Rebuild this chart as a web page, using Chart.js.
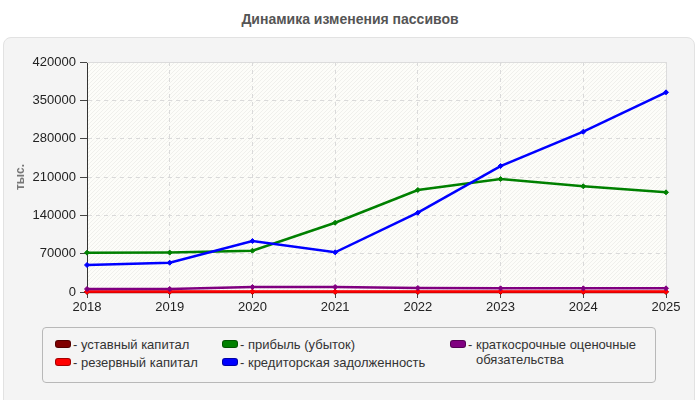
<!DOCTYPE html>
<html>
<head>
<meta charset="utf-8">
<script src="https://cdn.jsdelivr.net/npm/chart.js@4.4.0/dist/chart.umd.min.js"></script>
<style>
  html, body { margin:0; padding:0; background:#fff; }
  body { width:700px; height:400px; position:relative; overflow:hidden; font-family:"Liberation Sans", Arial, sans-serif; }
  #title { position:absolute; left:0; top:11px; width:700px; text-align:center; font-weight:bold; font-size:14px; color:#555; }
  #panel { position:absolute; left:3px; top:37px; width:692px; height:380px; background:#f4f4f4; border:1px solid #e2e2e2; border-radius:8px; box-sizing:border-box; }
  #wrap { position:absolute; left:0; top:0; width:700px; height:400px; }
  #legend { position:absolute; left:42px; top:327px; width:614px; height:56px; border:1px solid #b8b8b8; border-radius:4px; box-sizing:border-box; background:#f4f4f4; }
  .item { position:absolute; display:flex; align-items:flex-start; font-size:13px; color:#333; line-height:15px; }
  .sw { width:16px; height:8px; border-radius:3px; margin-top:3px; margin-right:2px; box-sizing:border-box; flex:none; }
  .dash { flex:none; white-space:pre; }
</style>
</head>
<body>
<div id="title">Динамика изменения пассивов</div>
<div id="panel"></div>
<div id="wrap"><canvas id="c" width="700" height="400"></canvas></div>
<div id="legend"></div>
<script>
const years = ['2018','2019','2020','2021','2022','2023','2024','2025'];
const yTicks = [0, 70000, 140000, 210000, 280000, 350000, 420000];
const seriesNames = ['уставный капитал','резервный капитал','прибыль (убыток)','кредиторская задолженность','краткосрочные оценочные обязательства'];
const seriesColors = ['#800000','#ff0000','#008000','#0000ff','#800080'];
const ustavny = [100, 100, 100, 100, 100, 100, 100, 100];
const rezervny = [800, 800, 800, 800, 800, 800, 800, 800];
const pribyl = [71800, 72000, 75400, 126500, 186300, 206300, 193000, 182000];
const kredit = [49300, 53500, 93100, 72500, 144800, 230000, 292700, 364600];
const kratko = [5500, 5500, 9100, 9100, 7300, 6700, 6700, 6700];
const seriesData = [ustavny, rezervny, pribyl, kredit, kratko];
const drawOrder = [5, 4, 2, 1, 3];

const bgPlugin = {
  id:'bg',
  beforeDraw(chart){
    const {ctx, chartArea:a} = chart;
    ctx.save();
    ctx.fillStyle = '#fdfdf9';
    ctx.fillRect(a.left, a.top, a.right-a.left, a.bottom-a.top);
    ctx.beginPath();
    ctx.rect(a.left, a.top, a.right-a.left, a.bottom-a.top);
    ctx.clip();
    ctx.strokeStyle = 'rgba(0,0,0,0.05)';
    ctx.lineWidth = 1;
    const h = a.bottom-a.top;
    for (let x = a.left - h; x < a.right; x += 4) {
      ctx.beginPath();
      ctx.moveTo(x, a.bottom);
      ctx.lineTo(x + h, a.top);
      ctx.stroke();
    }
    ctx.restore();
  },
  beforeDatasetsDraw(chart){
    const {ctx, chartArea:a} = chart;
    ctx.save();
    ctx.strokeStyle = '#dcdcdc';
    ctx.lineWidth = 1;
    ctx.beginPath();
    ctx.moveTo(a.left, a.top + 0.5);
    ctx.lineTo(a.right + 0.5, a.top + 0.5);
    ctx.lineTo(a.right + 0.5, a.bottom);
    ctx.stroke();
    ctx.restore();
  }
};

const datasets = seriesNames.map((n,i)=>({
  label:n,
  data:seriesData[i],
  borderColor:seriesColors[i],
  backgroundColor:seriesColors[i],
  borderWidth:2.5,
  pointStyle:'rectRot',
  pointRadius:2.5,
  pointBorderWidth:1,
  tension:0,
  fill:false,
  order:drawOrder[i],
  clip:false
}));

new Chart(document.getElementById('c'), {
  type:'line',
  data:{labels:years, datasets},
  plugins:[bgPlugin],
  options:{
    responsive:false,
    animation:false,
    devicePixelRatio:1,
    layout:{padding:{left:0, top:62, right:34, bottom:78}},
    plugins:{legend:{display:false}, tooltip:{enabled:false}, title:{display:false}},
    scales:{
      x:{
        type:'category',
        offset:false,
        afterFit(s){ s.height = 30; },
        grid:{color:'#dadada', tickLength:6, tickColor:'#444', tickBorderDash:[0,0], drawOnChartArea:true},
        border:{color:'#333', width:1, dash:[4,4]},
        ticks:{color:'#222', font:{family:'Liberation Sans', size:13}, padding:2, maxRotation:0, autoSkip:false}
      },
      y:{
        min:0, max:420000,
        afterFit(s){ s.width = 87; },
        afterBuildTicks(s){ s.ticks = yTicks.map(v=>({value:v})); },
        grid:{color:'#dadada', tickLength:7, tickColor:'#444', tickBorderDash:[0,0]},
        border:{color:'#333', width:1, dash:[4,4]},
        ticks:{color:'#222', font:{family:'Liberation Sans', size:13}, padding:4, callback:(v)=>String(v)},
        title:{display:true, text:'тыс.', color:'#777', font:{family:'Liberation Sans', size:12, weight:'bold'}, padding:{top:13, bottom:0}}
      }
    }
  }
});

// HTML legend
const legend = document.getElementById('legend');
const pos = [[12,12],[12,30],[179,12],[179,30],[407,12]];
seriesNames.forEach((n,i)=>{
  const it = document.createElement('div');
  it.className = 'item';
  it.style.left = pos[i][0] + 'px';
  it.style.top = (pos[i][1] - 3) + 'px';
  const sw = document.createElement('div');
  sw.className = 'sw';
  sw.style.background = seriesColors[i];
  sw.style.border = '1px solid rgba(0,0,0,0.35)';
  const d = document.createElement('span');
  d.className = 'dash';
  d.textContent = '- ';
  const t = document.createElement('span');
  t.textContent = n;
  if (i === 4) { t.style.width = '175px'; t.style.display = 'block'; }
  else { t.style.whiteSpace = 'nowrap'; }
  it.appendChild(sw); it.appendChild(d); it.appendChild(t);
  legend.appendChild(it);
});
</script>
</body>
</html>
